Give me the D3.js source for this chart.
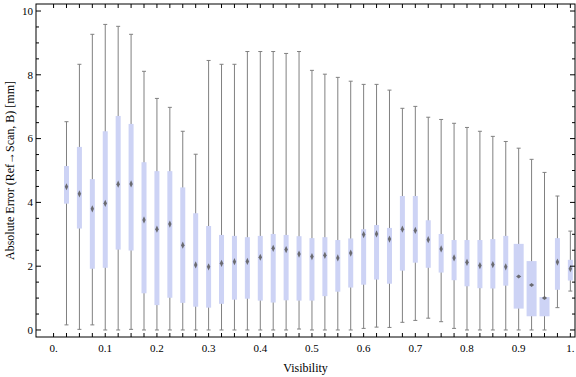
<!DOCTYPE html>
<html>
<head>
<meta charset="utf-8">
<script src="https://cdn.jsdelivr.net/npm/d3@7"></script>
<style>
    body { margin: 0; background: #fff; }
    text { font-family: "Liberation Serif", "Times New Roman", serif; fill: #000; }
</style>
</head>
<body>
<script>
// visibility bins (box positions)
const visibility = [0.025, 0.05, 0.075, 0.1, 0.125, 0.15, 0.175, 0.2, 0.225, 0.25,
    0.275, 0.3, 0.325, 0.35, 0.375, 0.4, 0.425, 0.45, 0.475, 0.5,
    0.525, 0.55, 0.575, 0.6, 0.625, 0.65, 0.675, 0.7, 0.725, 0.75,
    0.775, 0.8, 0.825, 0.85, 0.875, 0.9, 0.925, 0.95, 0.975, 1.0];

// whisker ends, quartiles and medians of the absolute error [mm]
const whiskerLow = [0.16, 0.02, 0.16, 0, 0, 0.02, 0, 0, 0, 0,
    0, 0, 0, 0, 0, 0, 0, 0, 0.03, 0,
    0, 0, 0, 0.05, 0.09, 0.08, 0.24, 0.30, 0.37, 0.26,
    0.05, 0, 0, 0, 0, 0, 0, 0, 0.70, 1.22];
const quartile1 = [3.96, 3.18, 1.92, 1.95, 2.52, 2.49, 1.15, 0.78, 1.01, 0.85,
    0.73, 0.70, 0.82, 0.95, 0.98, 0.92, 0.86, 0.93, 0.92, 0.92,
    1.06, 1.20, 1.33, 1.42, 1.58, 1.45, 1.86, 2.11, 1.95, 1.80,
    1.56, 1.37, 1.31, 1.30, 1.39, 0.67, 0.43, 0.43, 1.26, 1.55];
const median = [4.49, 4.27, 3.80, 3.97, 4.57, 4.58, 3.45, 3.16, 3.32, 2.66,
    2.04, 1.98, 2.09, 2.14, 2.15, 2.28, 2.56, 2.52, 2.38, 2.30,
    2.34, 2.26, 2.41, 2.99, 3.01, 2.85, 3.16, 3.12, 2.83, 2.54,
    2.26, 2.12, 2.02, 2.05, 1.98, 1.68, 1.41, 1.00, 2.13, 1.92];
const quartile3 = [5.14, 5.74, 4.73, 6.23, 6.71, 6.46, 5.26, 4.98, 4.98, 4.47,
    3.66, 3.26, 2.98, 2.95, 2.91, 2.95, 3.01, 2.98, 2.94, 2.88,
    2.91, 2.82, 2.87, 3.16, 3.29, 3.20, 4.20, 4.20, 3.44, 3.01,
    2.82, 2.82, 2.82, 2.85, 2.95, 2.70, 2.16, 1.03, 2.88, 2.20];
const whiskerHigh = [6.53, 8.33, 9.27, 9.58, 9.52, 9.27, 8.11, 7.26, 6.98, 6.23,
    5.51, 8.45, 8.33, 8.33, 8.73, 8.73, 8.73, 8.67, 8.73, 8.14,
    8.02, 7.92, 7.80, 7.70, 7.70, 7.52, 6.95, 7.01, 6.67, 6.60,
    6.48, 6.35, 6.23, 6.07, 5.91, 5.70, 5.35, 4.94, 4.20, 3.10];

// relative box width (variable width box chart)
const relWidth = [1, 1, 1, 1, 1, 1, 1, 1, 1, 1,
    1, 1, 1, 1, 1, 1, 1, 1, 1, 1,
    1, 1, 1, 1, 1, 1, 1, 1, 1, 1,
    1, 1, 1, 1, 1, 2, 2, 2, 1, 1];

// tick labels
const xTickValues = [0, 0.1, 0.2, 0.3, 0.4, 0.5, 0.6, 0.7, 0.8, 0.9, 1.0];
const xTickLabels = ['0.', '0.1', '0.2', '0.3', '0.4', '0.5', '0.6', '0.7', '0.8', '0.9', '1.'];
const yTickValues = [0, 2, 4, 6, 8, 10];
const yTickLabels = ['0', '2', '4', '6', '8', '10'];

drawBoxChart();

function drawBoxChart()
{
    const svgWidth = 576;
    const svgHeight = 377;
    const frame = {left: 36, right: 575, top: 4, bottom: 337};

    const svg = d3.select('body')
        .append('svg')
        .attr('width', svgWidth)
        .attr('height', svgHeight);

    const x = d3.scaleLinear()
        .domain([-0.034, 1.009])
        .range([frame.left, frame.right]);

    const y = d3.scaleLinear()
        .domain([-0.22, 10.22])
        .range([frame.bottom, frame.top]);

    // box width in pixels for a relative width of 1
    const unitWidth = 5;

    const data = visibility.map((v, i) => ({
        v: v,
        lo: whiskerLow[i],
        q1: quartile1[i],
        med: median[i],
        q3: quartile3[i],
        hi: whiskerHigh[i],
        w: relWidth[i] * unitWidth
    }));

    // soft median markers
    const defs = svg.append('defs');
    defs.append('filter')
        .attr('id', 'soft')
        .attr('x', '-1').attr('y', '-1').attr('width', '3').attr('height', '3')
        .append('feGaussianBlur')
        .attr('stdDeviation', 0.6);

    defs.append('clipPath')
        .attr('id', 'plot-clip')
        .append('rect')
        .attr('x', frame.left)
        .attr('y', frame.top)
        .attr('width', frame.right - frame.left)
        .attr('height', frame.bottom - frame.top);

    const plot = svg.append('g').attr('clip-path', 'url(#plot-clip)');

    const boxes = plot.selectAll('g.box')
        .data(data)
        .enter()
        .append('g')
        .attr('class', 'box');

    // whisker line
    boxes.append('line')
        .attr('x1', d => x(d.v))
        .attr('x2', d => x(d.v))
        .attr('y1', d => y(d.lo))
        .attr('y2', d => y(d.hi))
        .attr('stroke', '#808080')
        .attr('stroke-width', 1);

    // whisker caps
    ['lo', 'hi'].forEach(key =>
    {
        boxes.append('line')
            .attr('x1', d => x(d.v) - 2)
            .attr('x2', d => x(d.v) + 2)
            .attr('y1', d => y(d[key]))
            .attr('y2', d => y(d[key]))
            .attr('stroke', '#808080')
            .attr('stroke-width', 1);
    });

    // interquartile box
    boxes.append('rect')
        .attr('x', d => x(d.v) - d.w / 2)
        .attr('width', d => d.w)
        .attr('y', d => y(d.q3))
        .attr('height', d => Math.max(1, y(d.q1) - y(d.q3)))
        .attr('fill', '#cdd3f5');

    // median marker (small diamond)
    boxes.append('path')
        .attr('d', d =>
        {
            const cx = x(d.v);
            const cy = y(d.med);
            const hw = d.w > unitWidth ? 2.6 : 1.7;
            const hh = d.w > unitWidth ? 2.0 : 3.6;
            return `M${cx},${cy - hh}L${cx + hw},${cy}L${cx},${cy + hh}L${cx - hw},${cy}Z`;
        })
        .attr('fill', '#5a5a5a')
        .attr('opacity', 0.85)
        .attr('filter', 'url(#soft)');

    // frame
    svg.append('rect')
        .attr('x', frame.left)
        .attr('y', frame.top)
        .attr('width', frame.right - frame.left)
        .attr('height', frame.bottom - frame.top)
        .attr('fill', 'none')
        .attr('stroke', '#000')
        .attr('stroke-width', 1);

    // x ticks every 0.025 on bottom and top
    const xTicks = d3.range(0, 41).map(i => i * 0.025);
    const ticks = svg.append('g').attr('stroke', '#000').attr('stroke-width', 1);
    xTicks.forEach(t =>
    {
        ticks.append('line')
            .attr('x1', x(t)).attr('x2', x(t))
            .attr('y1', frame.bottom).attr('y2', frame.bottom - 4);
        ticks.append('line')
            .attr('x1', x(t)).attr('x2', x(t))
            .attr('y1', frame.top).attr('y2', frame.top + 4);
    });

    // y ticks every 0.5, longer at labelled values
    const yTicks = d3.range(0, 21).map(i => i * 0.5);
    yTicks.forEach(t =>
    {
        const len = t % 2 === 0 ? 5 : 3;
        ticks.append('line')
            .attr('x1', frame.left).attr('x2', frame.left + len)
            .attr('y1', y(t)).attr('y2', y(t));
        ticks.append('line')
            .attr('x1', frame.right).attr('x2', frame.right - len)
            .attr('y1', y(t)).attr('y2', y(t));
    });

    // tick labels
    svg.append('g')
        .selectAll('text')
        .data(xTickValues)
        .enter()
        .append('text')
        .attr('x', d => x(d))
        .attr('y', frame.bottom + 15)
        .attr('text-anchor', 'middle')
        .attr('font-size', 11)
        .text((d, i) => xTickLabels[i]);

    svg.append('g')
        .selectAll('text')
        .data(yTickValues)
        .enter()
        .append('text')
        .attr('x', frame.left - 3)
        .attr('y', d => y(d))
        .attr('dy', '0.35em')
        .attr('text-anchor', 'end')
        .attr('font-size', 11)
        .text((d, i) => yTickLabels[i]);

    // axis titles
    svg.append('text')
        .attr('x', (frame.left + frame.right) / 2)
        .attr('y', 372)
        .attr('text-anchor', 'middle')
        .attr('font-size', 12)
        .text('Visibility');

    svg.append('text')
        .attr('transform', `translate(14, ${(frame.top + frame.bottom) / 2}) rotate(-90)`)
        .attr('text-anchor', 'middle')
        .attr('font-size', 12)
        .text('Absolute Error (Ref\u2192Scan, B) [mm]');
}
</script>
</body>
</html>
